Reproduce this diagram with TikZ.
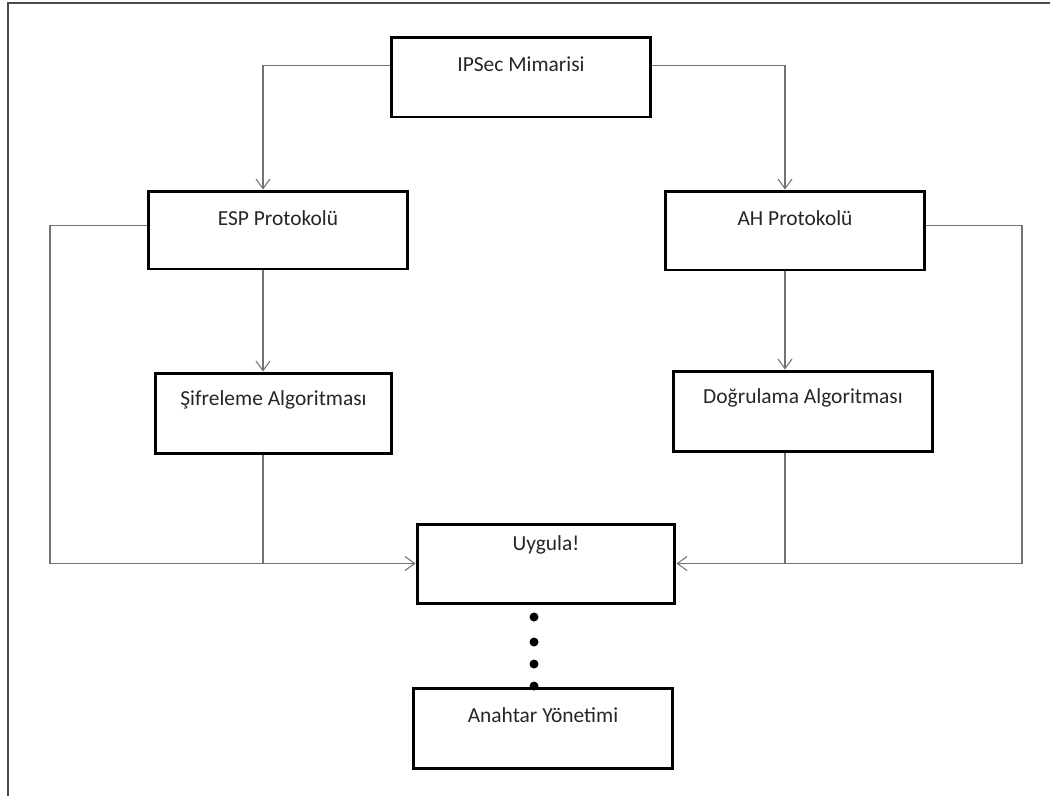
\documentclass[tikz,border=0pt]{standalone}
\usepackage{fontspec}
\setmainfont{Carlito}
\usetikzlibrary{arrows.meta}

\tikzset{
  boxframe/.style={draw=black, line width=1.7pt, minimum width=5.2cm, minimum height=1.6cm, inner sep=0pt},
  box/.style={boxframe, label={[lbl]north:#1}},
  lbl/.style={anchor=center, yshift=-0.57cm, text=black!85, font=\fontsize{12.2}{14}\selectfont},
  conn/.style={draw=black!55, line width=0.6pt},
  tip/.style={-{Straight Barb[length=5.5pt,width=8pt]}}
}

\begin{document}
\begin{tikzpicture}[x=0.02cm,y=-0.02cm]
\useasboundingbox (0,0) rectangle (1050,796);
\draw[black!70, line width=1.1pt] (1050,3) -- (8,3) -- (8,796);

% boxes
\node[box=IPSec Mimarisi] (ipsec) at (521,77) {};
\node[box=ESP Protokolü, minimum height=1.56cm] (esp) at (278,230) {};
\node[box=AH Protokolü, minimum height=1.58cm] (ah) at (795,230.5) {};
\node[box=Şifreleme Algoritması, minimum width=4.74cm] (sifre) at (273.5,413) {};
\node[box=Doğrulama Algoritması] (dogru) at (803,411) {};
\node[boxframe, label={[lbl,yshift=0.12cm]north:Uygula!}, minimum width=5.16cm, minimum height=1.58cm] (uygula) at (546,563.5) {};
\node[box=Anahtar Yönetimi] (anahtar) at (543,728) {};

% columns of the connectors
\coordinate (lcol) at (263,0);
\coordinate (rcol) at (785,0);
\coordinate (louter) at (50,0);
\coordinate (router) at (1022,0);

\draw[conn,tip] ([yshift=-0.6cm]ipsec.north west) -| (lcol |- esp.north);
\draw[conn,tip] ([yshift=-0.6cm]ipsec.north east) -| (rcol |- ah.north);
\draw[conn,tip] (lcol |- esp.south) -- (lcol |- sifre.north);
\draw[conn,tip] (rcol |- ah.south) -- (rcol |- dogru.north);
\draw[conn,tip] ([yshift=-0.72cm]esp.north west) -| (louter |- uygula.west) -- (uygula.west);
\draw[conn] (lcol |- sifre.south) -- (lcol |- uygula.west);
\draw[conn,tip] ([yshift=-0.72cm]ah.north east) -| (router |- uygula.east) -- (uygula.east);
\draw[conn] (rcol |- dogru.south) -- (rcol |- uygula.east);

% dots down to key management
\foreach \y in {617,642,664,686}
  \fill (534,\y) circle (0.09cm);
\end{tikzpicture}
\end{document}
